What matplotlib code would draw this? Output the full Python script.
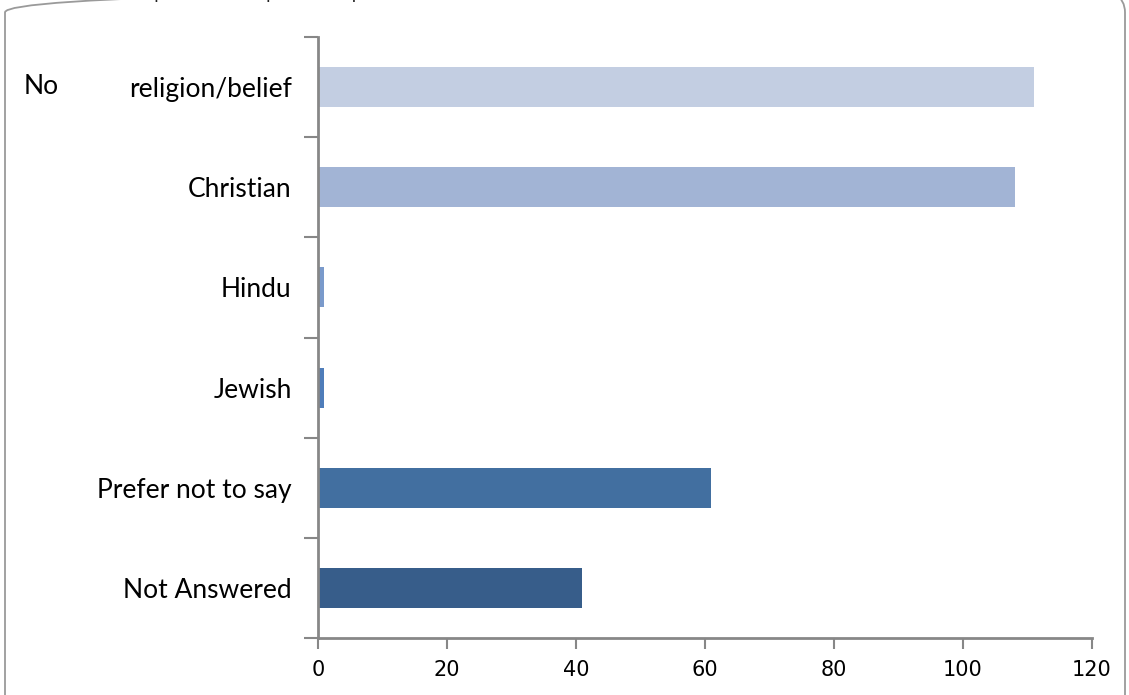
import numpy as np
import matplotlib.pyplot as plt
from matplotlib.patches import FancyBboxPatch

# data
categories = ["No religion/belief", "Christian", "Hindu", "Jewish",
              "Prefer not to say", "Not Answered"]
counts = [111, 108, 1, 1, 61, 41]
bar_colors = ["#C3CEE2", "#A2B4D5", "#7A9ACB", "#4F7DBA", "#426FA0", "#375D8A"]
x_ticks = [0, 20, 40, 60, 80, 100, 120]
title = "Number of responses to the particular question"

plt.rcParams['font.family'] = ['Lato', 'DejaVu Sans']

W, H = 1129, 695
fig = plt.figure(figsize=(W / 100, H / 100), dpi=100)

# rounded frame around the chart area
frame = FancyBboxPatch((5 / W, -40 / H), 1120 / W, 747 / H,
                       boxstyle="round,pad=0,rounding_size=0.035",
                       transform=fig.transFigure, fill=False,
                       edgecolor="#9a9a9a", linewidth=1.3)
fig.patches.append(frame)

# title is cut off by the top edge in the reference, only descenders show
fig.text(40 / W, 1 + 1.5 / H, title, fontsize=13, va='baseline', ha='left',
         color="#222222")

ax = fig.add_axes([318 / W, 1 - 638 / H, (1092 - 318) / W, (638 - 37) / H])

y = np.arange(len(categories))
ax.barh(y, counts, height=0.4, color=bar_colors)

ax.set_xlim(0, 120)
ax.set_ylim(len(categories) - 0.5, -0.5)

ax.set_xticks(x_ticks)
ax.set_xticklabels([str(t) for t in x_ticks], family='Liberation Sans Narrow',
                   fontsize=15)
ax.tick_params(axis='x', direction='out', length=8, width=1.5, color="#878787",
               pad=8)

ax.set_yticks(y)
labels = list(categories)
labels[0] = "religion/belief"
ax.set_yticklabels(labels, fontsize=19)
ax.tick_params(axis='y', which='major', length=0, pad=19)
ax.set_yticks(np.arange(-0.5, len(categories)), minor=True)
ax.tick_params(axis='y', which='minor', direction='out', length=10, width=1.5,
               color="#878787")
fig.text(24 / W, 1 - 87 / H, "No", fontsize=19, va='center', ha='left')

for side in ['top', 'right']:
    ax.spines[side].set_visible(False)
for side in ['left', 'bottom']:
    ax.spines[side].set_color("#878787")
    ax.spines[side].set_linewidth(2)

fig.savefig("out.png", dpi=100)
